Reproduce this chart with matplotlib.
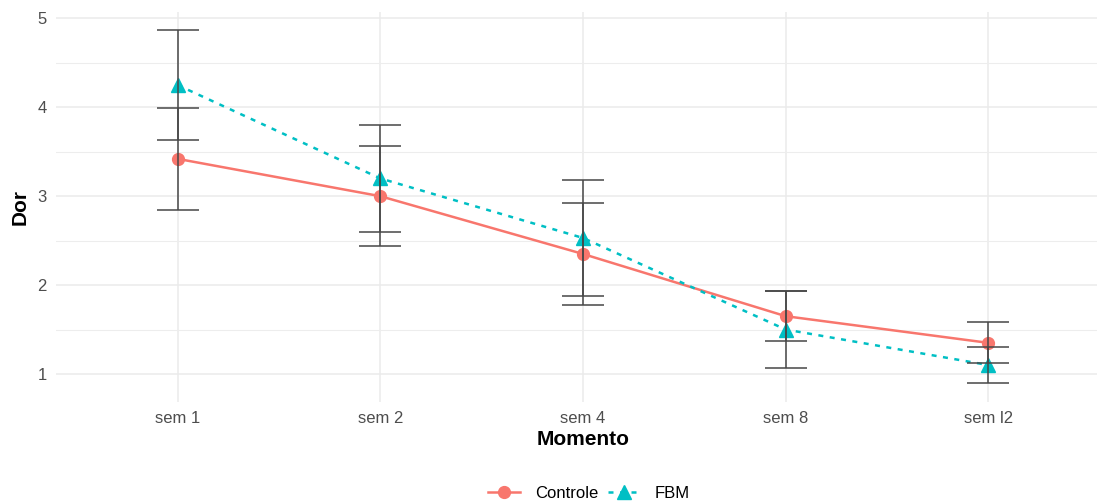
import numpy as np
import matplotlib
matplotlib.use('Agg')
import matplotlib.pyplot as plt

# dados
momentos = ['sem 1', 'sem 2', 'sem 4', 'sem 8', 'sem l2']
controle_media = [3.42, 3.00, 2.35, 1.65, 1.35]
controle_erro = [0.57, 0.56, 0.57, 0.28, 0.23]
fbm_media = [4.25, 3.20, 2.53, 1.50, 1.10]
fbm_erro = [0.62, 0.60, 0.65, 0.43, 0.20]

plt.rcParams['font.family'] = ['Liberation Sans', 'DejaVu Sans']

fig = plt.figure(figsize=(10.97, 5.01), dpi=100)
ax = fig.add_axes([56/1097, 99.3/501, 1054/1097, 389.7/501])

x = np.arange(1, len(momentos) + 1)

ax.plot(x, controle_media, color='#F8766D', lw=1.8, marker='o', ms=8.5,
        label='Controle', zorder=3)
ax.plot(x, fbm_media, color='#00BFC4', lw=1.8, ls=(0, (2, 2.6)), marker='^',
        ms=10, label='FBM', zorder=3)

# barras de erro
for media, erro in [(controle_media, controle_erro), (fbm_media, fbm_erro)]:
    ax.errorbar(x, media, yerr=erro, fmt='none', ecolor='#474747',
                elinewidth=1.1, capsize=14.8, capthick=1.1, zorder=4)

ax.set_xlim(0.4, 5.6)
ax.set_ylim(0.688, 5.072)
ax.set_xticks(x)
ax.set_xticklabels(momentos)
ax.set_yticks([1, 2, 3, 4, 5])
ax.set_yticks([1.5, 2.5, 3.5, 4.5], minor=True)

ax.grid(True, which='major', color='#EBEBEB', lw=1.1)
ax.grid(True, which='minor', axis='y', color='#EDEDED', lw=0.8)
ax.set_axisbelow(True)
for s in ax.spines.values():
    s.set_visible(False)
ax.tick_params(which='both', length=0, labelsize=12, labelcolor='#4D4D4D', pad=6.5)

ax.set_xlabel('Momento', fontsize=15, fontweight='bold')
ax.set_ylabel('Dor', fontsize=15, fontweight='bold')
ax.xaxis.label.set_va('center')
ax.yaxis.label.set_va('center')
ax.xaxis.set_label_coords(0.5, -0.098)
ax.yaxis.set_label_coords(-0.034, 0.5)

fig.legend(loc='center', bbox_to_anchor=(589/1097, 1 - 493/501), ncol=2,
           frameon=False, fontsize=12, handlelength=1.9, columnspacing=0.6,
           handletextpad=0.9)

fig.savefig('out.png', dpi=100)
